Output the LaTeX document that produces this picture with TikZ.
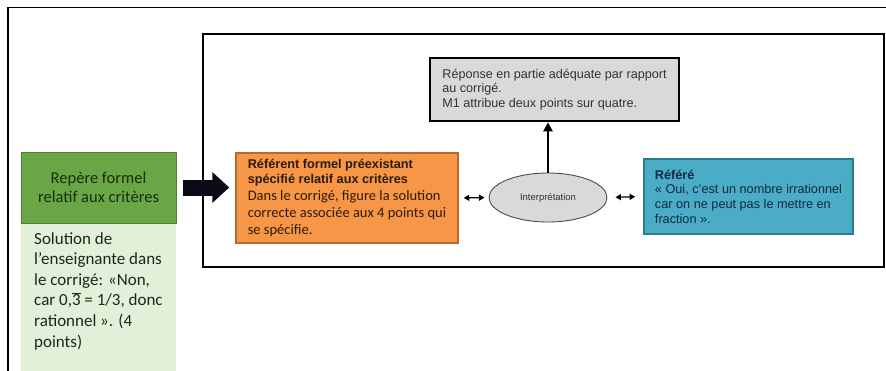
\documentclass[tikz,border=0pt]{standalone}
\usepackage{fontspec}
\setmainfont{Liberation Sans}
\newfontfamily\calib{Carlito}
\usetikzlibrary{arrows.meta,shapes.geometric}
\definecolor{grn}{HTML}{6AA546}
\definecolor{grnborder}{HTML}{4F7F33}
\definecolor{grntext}{HTML}{17300C}
\definecolor{lgrn}{HTML}{E2EFD9}
\definecolor{lgrntext}{HTML}{1E2619}
\definecolor{orng}{HTML}{F79646}
\definecolor{orngborder}{HTML}{B9692C}
\definecolor{orngtext}{HTML}{2B1B0C}
\definecolor{blu}{HTML}{4BACC6}
\definecolor{bluborder}{HTML}{2E7A90}
\definecolor{blutext}{HTML}{13293F}
\definecolor{gry}{HTML}{D9D9D9}
\definecolor{grytext}{HTML}{333333}
\definecolor{arrowdark}{HTML}{0B0B16}
\begin{document}
\begin{tikzpicture}[x=1pt,y=-1pt,
  frame/.style={draw=black},
  panel/.style={rectangle, inner sep=0pt, align=left},
  ellbox/.style={ellipse, draw=black!70, line width=0.9pt, fill=gry, inner sep=0pt,
    minimum width=118pt, minimum height=49pt, font=\fontsize{9.5}{11}\selectfont, text=grytext},
  bigarrow/.style={draw=arrowdark, line width=16pt, -{Triangle[length=17pt,width=30pt]}},
  uparrow/.style={draw=black, line width=2.6pt, -{Triangle[length=9pt,width=9pt]}},
  dblarrow/.style={draw=black, line width=1.2pt, {Triangle[length=5.5pt,width=6pt]}-{Triangle[length=5.5pt,width=6pt]}}
]
\useasboundingbox (0,0) rectangle (886,370);

% outer frame (cut by the picture edges)
\coordinate (ofbl) at (8,372);
\coordinate (oftl) at (8,7.5);
\coordinate (oftr) at (888,7.5);
\draw[frame, line width=1.6pt] (ofbl) -- (oftl) -- (oftr);

% inner frame
\coordinate (iftl) at (203,34);
\coordinate (ifbr) at (884,267);
\draw[frame, line width=2pt] (iftl) rectangle (ifbr);

% grey result box
\node[panel, draw=black, line width=2.6pt, fill=gry, minimum width=249pt, minimum height=63pt,
      text=grytext, font=\fontsize{12.6}{14.6}\selectfont] (gray) at (554.5,89.5)
  {Réponse en partie adéquate par rapport\\au corrigé.\\M1 attribue deux points sur quatre.};

% orange box
\node[panel, draw=orngborder, line width=1.5pt, fill=orng, minimum width=222pt, minimum height=90pt,
      text=orngtext, font=\fontsize{12.7}{15}\selectfont] (orange) at (347,198)
  {\textbf{Référent formel préexistant}\\\textbf{spécifié relatif aux critères}\\[1.5pt]
   {\calib\fontsize{14.5}{17}\selectfont Dans le corrigé, figure la solution}\\[2pt]
   {\calib\fontsize{14.5}{17}\selectfont correcte associée aux 4 points qui}\\[2pt]
   {\calib\fontsize{14.5}{17}\selectfont se spécifie.}};

% blue box
\node[panel, draw=bluborder, line width=1.8pt, fill=blu, minimum width=209pt, minimum height=75pt,
      text=blutext, font=\fontsize{12.7}{14.6}\selectfont] (blue) at (748.5,196.5)
  {\textbf{Référé}\\« Oui, c’est un nombre irrationnel\\car on ne peut pas le mettre en\\fraction ».};

% ellipse
\node[ellbox] (ell) at (548,197.5) {Interprétation};

% green box
\node[panel, align=center, draw=grnborder, line width=1pt, fill=grn, minimum width=155pt, minimum height=71pt,
      text=grntext, font=\calib\fontsize{16.5}{19.5}\selectfont] (green) at (98.5,187.5)
  {Repère formel\\relatif aux critères};

% light green box
\node[panel, fill=lgrn, minimum width=155pt, minimum height=148pt, anchor=north west] (sol) at (21,224) {};
\node[panel, anchor=north west, inner xsep=13pt, inner ysep=8pt, text=lgrntext,
      font=\calib\fontsize{17}{20.6}\selectfont] (soltext) at (sol.north west)
  {Solution de\\l’enseignante dans\\le corrigé: «Non,\\car 0,\(\overline{\mbox{3}}\) = 1/3, donc\\rationnel ». (4\\points)};

% connectors
\draw[bigarrow, shorten <=6pt, shorten >=6pt] (green.east) -- (green.east -| orange.west);
\draw[uparrow] (ell.north) -- (ell.north |- gray.south);
\draw[dblarrow, shorten <=5pt, shorten >=4pt] (orange.east) -- (ell.west);
\draw[dblarrow, shorten <=8pt, shorten >=8pt] (ell.east) -- (blue.west);
\end{tikzpicture}
\end{document}
